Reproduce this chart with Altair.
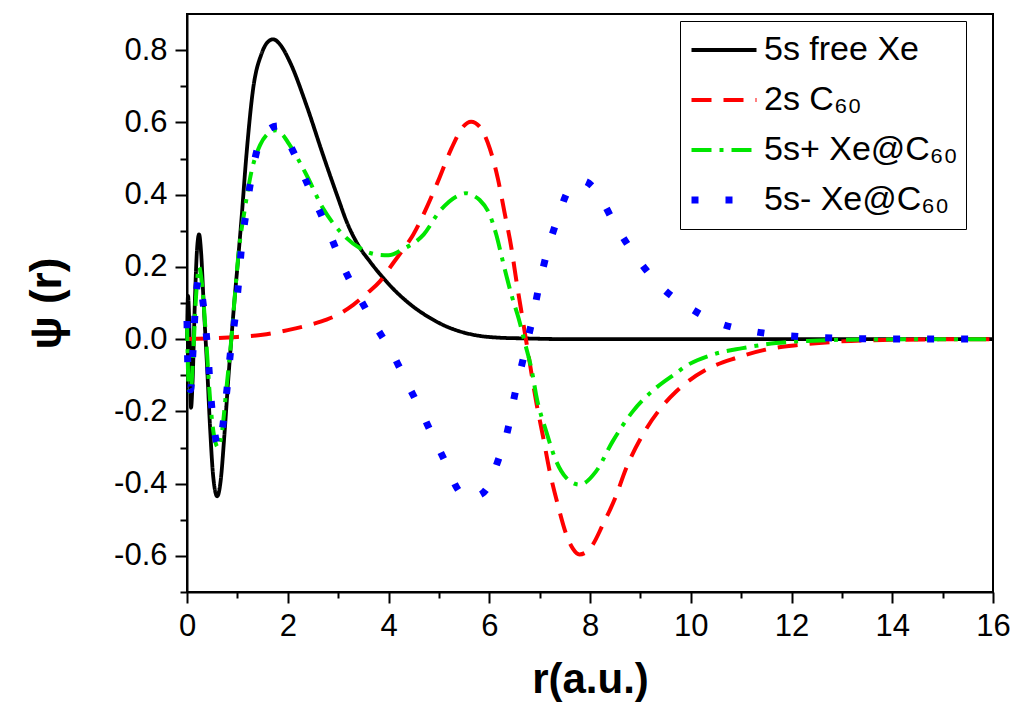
import altair as alt
import pandas as pd

SERIES = ["5s free Xe", "2s C₆₀", "5s+ Xe@C₆₀", "5s- Xe@C₆₀"]
COLORS = ["#000000", "#ff0000", "#00e600", "#0000ff"]
DASHES = [[1, 0], [20, 12], [20, 8, 4, 8], [7, 27]]
WIDTHS = [3.8, 4, 4, 7]

r_free = [0.00, 0.02, 0.05, 0.08, 0.11, 0.16, 0.20, 0.24, 0.28, 0.33, 0.40, 0.46, 0.52, 0.60,
          0.67, 0.74, 0.82, 0.88, 0.95, 1.02, 1.08, 1.18, 1.31, 1.48, 1.60, 1.71, 1.85, 2.04,
          2.37, 2.70, 3.00, 3.17, 3.40, 3.63, 3.83, 4.16, 4.49, 4.75, 5.15, 5.50, 5.81, 6.20,
          6.70, 7.50, 9.00, 12.0, 16.0]
psi_free = [0.00, 0.12, 0.02, -0.19, -0.12, 0.12, 0.25, 0.29, 0.24, 0.10, -0.08, -0.25, -0.38, -0.435,
            -0.39, -0.27, -0.11, 0.00, 0.12, 0.23, 0.33, 0.51, 0.69, 0.79, 0.822, 0.83, 0.815, 0.768,
            0.648, 0.51, 0.39, 0.325, 0.26, 0.215, 0.18, 0.13, 0.09, 0.065, 0.035, 0.018, 0.009, 0.004,
            0.002, 0.0, 0.0, 0.0, 0.0]

r_c60 = [0.0, 0.5, 1.0, 1.5, 2.0, 2.5, 2.77, 3.0, 3.30, 3.60, 3.83, 4.09, 4.30, 4.49, 4.75, 4.98,
         5.25, 5.48, 5.64, 5.81, 6.01, 6.17, 6.30, 6.44, 6.54, 6.67, 6.80, 6.93, 7.06, 7.20, 7.36,
         7.53, 7.66, 7.79, 7.92, 8.05, 8.25, 8.50, 8.72, 9.05, 9.44, 9.71, 9.90, 10.30, 10.90,
         11.49, 12.15, 12.90, 14.0, 16.0]
psi_c60 = [0.0, 0.002, 0.006, 0.012, 0.025, 0.042, 0.054, 0.068, 0.095, 0.13, 0.16, 0.21, 0.25, 0.289,
           0.362, 0.436, 0.528, 0.588, 0.602, 0.588, 0.528, 0.445, 0.353, 0.252, 0.16, 0.049, -0.062,
           -0.172, -0.264, -0.366, -0.458, -0.541, -0.58, -0.596, -0.59, -0.57, -0.515, -0.44, -0.357,
           -0.264, -0.185, -0.145, -0.122, -0.085, -0.052, -0.029, -0.016, -0.007, -0.002, 0.0]

r_plus = [0.0, 0.03, 0.07, 0.12, 0.18, 0.24, 0.30, 0.38, 0.46, 0.54, 0.62, 0.70, 0.78, 0.88, 0.95,
          1.02, 1.15, 1.28, 1.45, 1.60, 1.76, 1.90, 2.04, 2.37, 2.70, 3.10, 3.43, 3.83, 4.00, 4.30,
          4.70, 5.01, 5.35, 5.54, 5.70, 5.81, 6.01, 6.14, 6.27, 6.44, 6.60, 6.70, 6.86, 6.93, 7.13,
          7.33, 7.53, 7.79, 8.12, 8.45, 8.85, 9.31, 9.71, 9.90, 10.43, 11.03, 11.69, 12.30, 13.50, 16.0]
psi_plus = [0.05, -0.12, -0.15, -0.05, 0.12, 0.20, 0.15, 0.0, -0.17, -0.27, -0.30, -0.25, -0.14, 0.0, 0.12,
            0.233, 0.362, 0.464, 0.537, 0.568, 0.578, 0.565, 0.537, 0.455, 0.362, 0.289, 0.252, 0.233, 0.232, 0.25,
            0.29, 0.353, 0.395, 0.404, 0.396, 0.385, 0.344, 0.289, 0.215, 0.123, 0.049, -0.006, -0.098, -0.154, -0.255,
            -0.338, -0.384, -0.403, -0.366, -0.283, -0.200, -0.135, -0.094, -0.075, -0.043, -0.025, -0.011, -0.005, -0.001, 0.0]

r_minus = [0.0, 0.03, 0.07, 0.12, 0.18, 0.24, 0.30, 0.36, 0.42, 0.48, 0.55, 0.64, 0.72, 0.80, 0.86,
           0.95, 1.02, 1.08, 1.17, 1.28, 1.43, 1.60, 1.81, 2.00, 2.14, 2.37, 2.62, 2.87, 3.10, 3.43,
           3.79, 4.09, 4.37, 4.62, 4.88, 5.15, 5.35, 5.55, 5.75, 5.94, 6.17, 6.37, 6.50, 6.67, 6.86,
           7.00, 7.16, 7.36, 7.59, 7.85, 8.09, 8.45, 8.75, 9.11, 9.47, 9.94, 10.47, 11.26, 11.89,
           12.65, 13.50, 16.0]
psi_minus = [0.05, -0.13, -0.14, -0.03, 0.12, 0.17, 0.12, 0.05, -0.05, -0.17, -0.26, -0.30, -0.23, -0.13, -0.04,
             0.055, 0.15, 0.252, 0.348, 0.45, 0.542, 0.578, 0.59, 0.55, 0.51, 0.436, 0.358, 0.279, 0.201, 0.113,
             0.026, -0.043, -0.122, -0.191, -0.269, -0.347, -0.41, -0.44, -0.435, -0.416, -0.338, -0.250, -0.158, -0.057, 0.058,
             0.155, 0.247, 0.335, 0.416, 0.438, 0.417, 0.330, 0.261, 0.192, 0.137, 0.090, 0.049, 0.021, 0.010,
             0.004, 0.001, 0.0]

x_major = [0, 2, 4, 6, 8, 10, 12, 14, 16]
x_minor = [1, 3, 5, 7, 9, 11, 13, 15]
y_major = [-0.6, -0.4, -0.2, 0.0, 0.2, 0.4, 0.6, 0.8]
y_minor = [-0.7, -0.5, -0.3, -0.1, 0.1, 0.3, 0.5, 0.7]

rows = []
for name, rs, ps in zip(SERIES, [r_free, r_c60, r_plus, r_minus], [psi_free, psi_c60, psi_plus, psi_minus]):
    for i, (r, p) in enumerate(zip(rs, ps)):
        rows.append({"series": name, "r": r, "psi": p, "order": i})
df = pd.DataFrame(rows)

FONT = "Liberation Sans"
x_scale = alt.Scale(domain=[0, 16], nice=False, zero=False)
y_scale = alt.Scale(domain=[-0.7, 0.9], nice=False, zero=False)

legend = alt.Legend(
    title=None, orient="none", legendX=493, legendY=7,
    symbolType="stroke", symbolSize=4225, clipHeight=42, rowPadding=8,
    labelFont=FONT, labelFontSize=34, labelColor="black", labelBaseline="middle",
    labelOffset=4, labelLimit=0, padding=8, strokeColor="black", fillColor="white",
    symbolOpacity=1,
)

main = alt.Chart(df).mark_line(interpolate="monotone", strokeCap="butt", strokeJoin="round").encode(
    x=alt.X("r:Q", scale=x_scale, axis=alt.Axis(
        values=x_major, format="d", title="r(a.u.)", orient="bottom",
        labelFont=FONT, labelFontSize=31, labelColor="black", labelPadding=8, labelFlush=False,
        tickSize=11, tickWidth=2, tickColor="black", domainColor="black", domainWidth=2,
        titleFont=FONT, titleFontSize=42, titleFontWeight="bold", titleColor="black", titlePadding=18,
        grid=False)),
    y=alt.Y("psi:Q", scale=y_scale, axis=alt.Axis(
        values=y_major, title="ψ (r)", orient="left",
        labelExpr="datum.value < 0 ? '-' + format(-datum.value, '.1f') : format(datum.value, '.1f')",
        labelFont=FONT, labelFontSize=31, labelColor="black", labelPadding=8, labelFlush=False,
        tickSize=12, tickWidth=2, tickColor="black", domainColor="black", domainWidth=2,
        titleFont=FONT, titleFontSize=44, titleFontWeight="bold", titleColor="black", titlePadding=44,
        grid=False)),
    color=alt.Color("series:N", scale=alt.Scale(domain=SERIES, range=COLORS), legend=legend),
    strokeDash=alt.StrokeDash("series:N", scale=alt.Scale(domain=SERIES, range=DASHES), legend=legend),
    strokeWidth=alt.StrokeWidth("series:N", scale=alt.Scale(type="ordinal", domain=SERIES, range=WIDTHS),
                                legend=legend),
    order="order:Q",
)

minor = alt.Chart(df).mark_line(opacity=0).encode(
    x=alt.X("r:Q", scale=x_scale, axis=alt.Axis(
        values=x_minor, labels=False, title=None, orient="bottom", domain=False,
        tickSize=6, tickWidth=2, tickColor="black", grid=False)),
    y=alt.Y("psi:Q", scale=y_scale, axis=alt.Axis(
        values=y_minor, labels=False, title=None, orient="left", domain=False,
        tickSize=7, tickWidth=2, tickColor="black", grid=False)),
    detail="series:N",
)

chart = alt.layer(main, minor).resolve_axis(x="independent", y="independent").properties(
    width=806, height=578,
    autosize=alt.AutoSizeParams(type="none"),
    padding={"left": 179, "top": 6, "right": 19, "bottom": 112},
).configure_view(stroke="black", strokeWidth=2)

chart.save("out.html", embed_options={"renderer": "svg", "actions": False})
